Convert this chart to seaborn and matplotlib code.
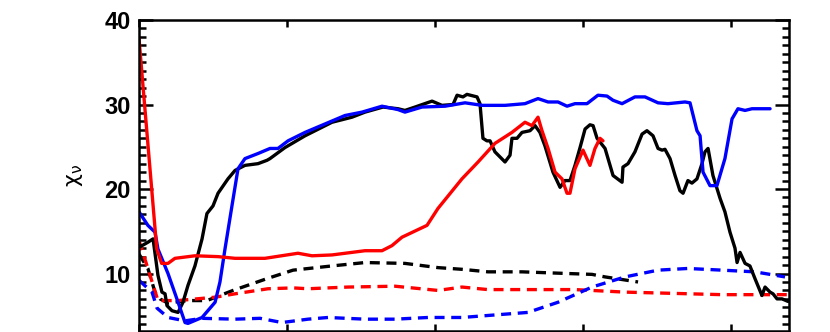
import numpy as np
import seaborn as sns
import matplotlib.pyplot as plt
from matplotlib.ticker import MultipleLocator

# values (x in tick units, y = chi_nu)
black_x = [0.00, 0.06, 0.095, 0.128, 0.155, 0.176, 0.189, 0.223, 0.264, 0.297, 0.331, 0.378,
           0.426, 0.459, 0.50, 0.534, 0.601, 0.649, 0.716, 0.804, 0.865, 0.885, 0.986, 1.122,
           1.304, 1.439, 1.527, 1.649, 1.75, 1.797, 1.865, 1.98, 2.047, 2.122, 2.149, 2.189,
           2.216, 2.284, 2.304, 2.324, 2.351, 2.372, 2.405, 2.473, 2.507, 2.52, 2.554, 2.588,
           2.642, 2.676, 2.709, 2.743, 2.797, 2.845, 2.878, 2.912, 2.946, 2.98, 3.014, 3.047,
           3.068, 3.095, 3.149, 3.203, 3.264, 3.27, 3.304, 3.351, 3.399, 3.432, 3.473, 3.507,
           3.534, 3.554, 3.588, 3.622, 3.655, 3.676, 3.709, 3.736, 3.77, 3.804, 3.824, 3.845,
           3.878, 3.926, 3.959, 3.993, 4.027, 4.041, 4.061, 4.095, 4.128, 4.162, 4.209, 4.23,
           4.264, 4.284, 4.311, 4.345, 4.385]
black_y = [13.1, 13.7, 14.1, 9.8, 7.8, 7.6, 6.2, 5.6, 5.4, 6.6, 8.6, 10.9,
           14.1, 17.1, 18.0, 19.5, 21.2, 22.2, 22.8, 23.0, 23.4, 23.6, 24.9, 26.3,
           27.9, 28.5, 29.1, 29.7, 29.5, 29.3, 29.7, 30.4, 29.9, 30.0, 31.1, 30.9,
           31.2, 30.9, 30.1, 26.0, 25.7, 25.7, 24.4, 23.2, 24.0, 26.0, 26.0, 26.7,
           26.9, 27.5, 26.7, 25.1, 22.0, 20.2, 21.0, 21.0, 22.8, 24.9, 27.1, 27.6,
           27.5, 26.0, 24.8, 21.6, 20.8, 22.6, 23.0, 24.4, 26.5, 26.9, 26.3, 24.8,
           24.6, 24.7, 23.6, 21.6, 19.8, 19.5, 21.0, 20.7, 21.2, 23.0, 24.4, 24.8,
           21.6, 18.9, 17.3, 14.9, 13.0, 11.3, 12.5, 11.2, 10.9, 9.4, 7.4, 8.4,
           7.8, 7.6, 7.0, 7.0, 6.7]

blue_x = [0.00, 0.06, 0.108, 0.128, 0.196, 0.264, 0.311, 0.331, 0.426, 0.514, 0.547, 0.581,
          0.628, 0.669, 0.716, 0.804, 0.885, 0.939, 1.007, 1.122, 1.257, 1.392, 1.507, 1.642,
          1.75, 1.797, 1.912, 2.068, 2.203, 2.318, 2.473, 2.608, 2.696, 2.764, 2.831, 2.892,
          2.946, 3.027, 3.101, 3.162, 3.203, 3.264, 3.351, 3.419, 3.507, 3.574, 3.689, 3.723,
          3.77, 3.791, 3.811, 3.858, 3.905, 3.959, 4.007, 4.047, 4.095, 4.142, 4.209, 4.264]
blue_y = [17.3, 15.7, 14.9, 12.9, 10.0, 6.6, 4.2, 4.1, 4.8, 6.6, 9.0, 12.9,
          18.0, 22.4, 23.6, 24.2, 24.8, 24.8, 25.7, 26.7, 27.7, 28.7, 29.1, 29.8,
          29.4, 29.1, 29.7, 29.8, 30.2, 29.9, 29.9, 30.1, 30.7, 30.3, 30.3, 29.8,
          30.1, 30.1, 31.1, 31.0, 30.5, 30.1, 30.9, 30.9, 30.2, 30.1, 30.3, 30.2,
          26.9, 26.3, 22.0, 20.4, 20.4, 23.6, 28.3, 29.5, 29.3, 29.5, 29.5, 29.5]

red_x = [0.00, 0.12, 0.153, 0.196, 0.243, 0.378, 0.534, 0.649, 0.851, 1.074, 1.169, 1.304,
         1.527, 1.642, 1.709, 1.777, 1.946, 2.02, 2.182, 2.291, 2.405, 2.52, 2.608, 2.655,
         2.696, 2.723, 2.764, 2.811, 2.858, 2.892, 2.912, 2.946, 3.0, 3.047, 3.081, 3.115, 3.135]
red_y = [37.8, 12.9, 11.2, 11.2, 11.8, 12.1, 12.0, 11.8, 11.8, 12.4, 12.1, 12.2,
         12.7, 12.7, 13.3, 14.3, 15.7, 17.7, 21.2, 23.2, 25.4, 26.7, 27.9, 27.5,
         28.5, 26.9, 24.8, 22.0, 21.2, 19.5, 19.5, 22.4, 24.6, 22.8, 24.8, 26.0, 25.7]

black_fit_x = [0.0, 0.06, 0.108, 0.142, 0.196, 0.324, 0.459, 0.635, 0.865, 1.041, 1.304,
               1.527, 1.797, 2.02, 2.182, 2.358, 2.588, 2.899, 3.061, 3.149, 3.372]
black_fit_y = [12.3, 10.6, 7.8, 7.0, 6.5, 6.8, 6.8, 8.0, 9.4, 10.4, 10.9,
               11.3, 11.2, 10.7, 10.5, 10.2, 10.2, 10.0, 9.9, 9.6, 9.0]

red_fit_x = [0.0, 0.06, 0.128, 0.264, 0.514, 0.649, 0.872, 1.041, 1.142, 1.412, 1.73,
             2.02, 2.182, 2.358, 2.628, 2.946, 3.284, 3.507, 3.939, 4.392]
red_fit_y = [13.9, 10.6, 6.8, 6.8, 7.2, 7.6, 8.2, 8.3, 8.2, 8.4, 8.5,
             8.0, 8.4, 8.1, 8.1, 8.1, 7.8, 7.7, 7.5, 7.5]

blue_fit_x = [0.0, 0.088, 0.122, 0.196, 0.311, 0.426, 0.649, 0.818, 0.966, 1.142, 1.277,
              1.527, 1.73, 1.953, 2.182, 2.405, 2.628, 2.831, 3.061, 3.284, 3.507, 3.709,
              3.939, 4.162, 4.365]
blue_fit_y = [9.2, 7.8, 5.9, 4.8, 4.4, 4.7, 4.6, 4.7, 4.2, 4.6, 4.8,
              4.6, 4.6, 4.8, 4.8, 5.1, 5.4, 6.6, 8.4, 9.6, 10.4, 10.6,
              10.4, 10.2, 9.6]

sns.set_style('ticks')
plt.rcParams['font.family'] = ['Liberation Sans', 'DejaVu Sans']
plt.rcParams['font.weight'] = 'bold'
plt.rcParams['mathtext.default'] = 'regular'

fig = plt.figure(figsize=(8.3, 3.32), dpi=100)
ax = fig.add_axes([139 / 830, 1 - 331 / 332, 650 / 830, 311 / 332])

lw = 2.4
dash = (3, 2)
series = [
    (black_fit_x, black_fit_y, 'black', True),
    (red_fit_x, red_fit_y, 'red', True),
    (blue_fit_x, blue_fit_y, 'blue', True),
    (black_x, black_y, 'black', False),
    (blue_x, blue_y, 'blue', False),
    (red_x, red_y, 'red', False),
]
for xs, ys, col, dashed in series:
    sns.lineplot(x=xs, y=ys, ax=ax, color=col, linewidth=lw, estimator=None, sort=False)
    if dashed:
        ax.lines[-1].set_dashes(dash)

ax.set_xlim(0, 650 / 148)
ax.set_ylim(3.2, 40)
ax.xaxis.set_major_locator(MultipleLocator(1))
ax.yaxis.set_major_locator(MultipleLocator(10))
ax.yaxis.set_minor_locator(MultipleLocator(1))
ax.tick_params(axis='both', which='both', direction='in', top=True, right=True,
               color='black', labelcolor='black')
ax.tick_params(axis='x', which='major', length=5, width=1.8, labelbottom=False)
ax.tick_params(axis='y', which='major', length=10, width=1.8, pad=6, labelsize=17)
ax.tick_params(axis='y', which='minor', length=5, width=1.8)
for sp in ax.spines.values():
    sp.set_linewidth(1.8)
    sp.set_color('black')

ax.set_ylabel(r'$\chi_\nu$', fontsize=16, fontweight='normal', labelpad=14,
              family='DejaVu Sans', color='black')
ax.set_xlabel('')

fig.savefig('out.png', dpi=100)
